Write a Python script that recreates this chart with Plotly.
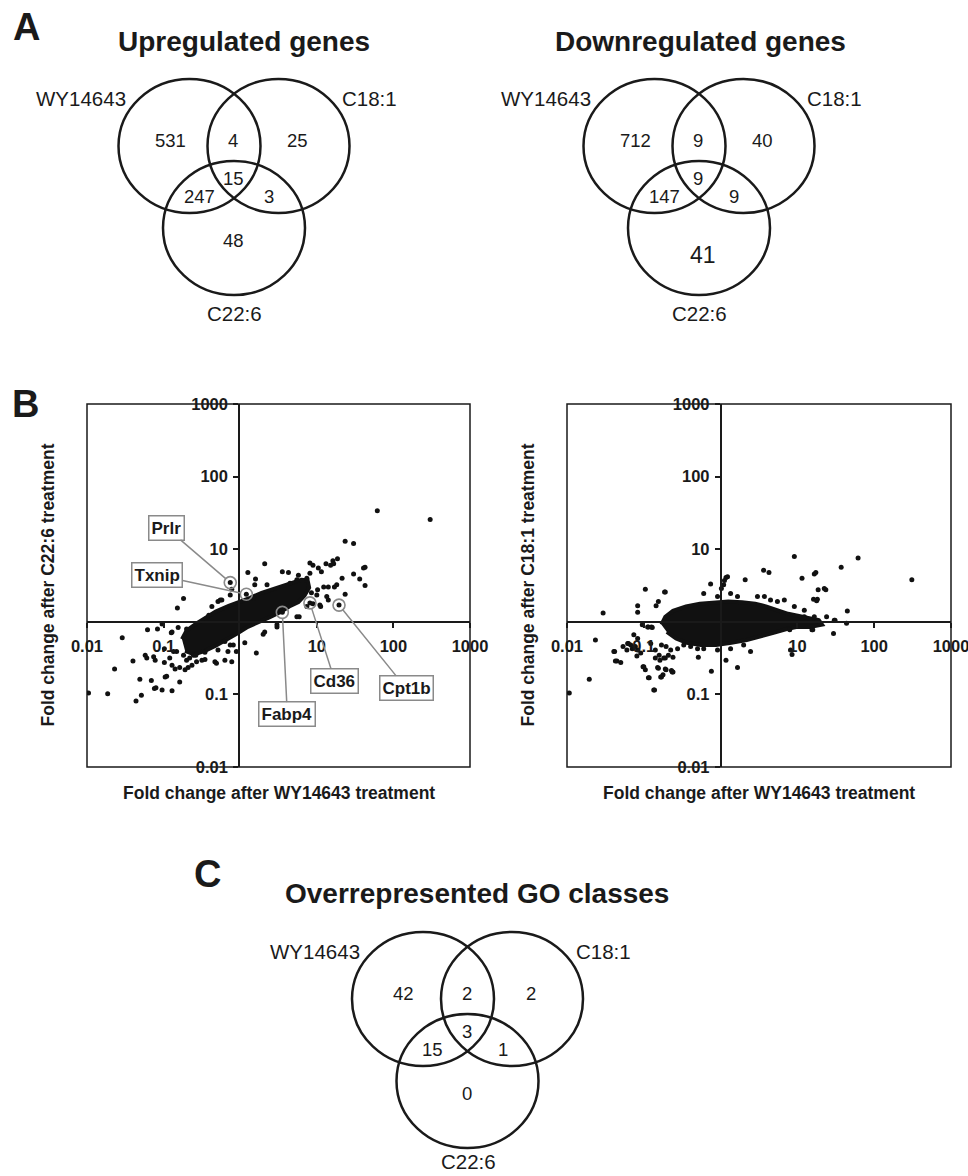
import plotly.graph_objects as go

W, H = 968, 1176

# ---------------- data ----------------
venn_sets = ["WY14643", "C18:1", "C22:6"]
# region order: WY only, WY&C18, C18 only, all three, WY&C22, C18&C22, C22 only
up_counts = [531, 4, 25, 15, 247, 3, 48]
down_counts = [712, 9, 40, 9, 147, 9, 41]
go_counts = [42, 2, 2, 3, 15, 1, 0]
venn_titles = ["Upregulated genes", "Downregulated genes", "Overrepresented GO classes"]
panel_letters = ["A", "B", "C"]

tick_values = [0.01, 0.1, 10, 100, 1000]
tick_labels = ["0.01", "0.1", "10", "100", "1000"]

x_title = "Fold change after WY14643 treatment"
y_titles = ["Fold change after C22:6 treatment", "Fold change after C18:1 treatment"]

# C22:6 vs WY14643 : individual genes, log10 fold changes
dha_wy_log10 = [1.79, 2.48, 1.37, 1.48, 1.27, 1.63, 1.56, 1.63, 1.37, 0.32, 0.55, 0.63, 0.10, 0.20,
                0.19, 0.35, -0.13, -0.11, 0.08, 0.17, -0.74, -0.82, 1.29, 0.55, 0.91, 1.21, 1.22, 1.12,
                1.18, 0.91, 0.95, 1.02, 1.06, 1.61, 1.48, 1.33, 1.26, 1.23, 1.15, 1.09, 1.01, 1.00, 0.93,
                1.13, 1.15, 1.04, 1.05, 0.95, 0.87, 0.74, 0.77, 0.48, -0.24, -0.29, -0.37, -0.41,
                -1.21, -1.08, -1.54, -0.90, -0.81, -0.70, -0.99, -0.87, -0.83, -1.40, -1.64, -1.24,
                -1.22, -1.13, -1.11, -0.99, -0.92, -0.89, -0.85, -0.79, -0.72, -0.68, -0.63, -0.74,
                -0.70, -0.66, -0.61, -0.57, -0.98, -0.96, -1.31, -1.16, -1.10, -1.02, -0.89, -0.79,
                -1.29, -1.36, -1.73, -1.98, -0.50, -0.46, -0.33, -0.20, -0.11, -0.16, -0.29, -0.20,
                -0.09, -0.05, -1.12, -1.02, -0.89, 0.30, 0.21, 0.06, -0.13, -0.31, 0.48, -0.26, -0.13,
                0.65, 0.74, 0.87, 0.76, 0.91, 0.32, -0.58, -0.46]
dha_log10 = [1.53, 1.41, 1.11, 1.08, 0.87, 0.75, 0.59, 0.50, 0.38, 0.80, 0.69, 0.68, 0.68, 0.59,
             0.51, 0.51, 0.54, 0.45, 0.38, 0.32, 0.32, 0.19, 0.23, 0.13, 0.26, 0.84, 0.80, 0.80,
             0.78, 0.81, 0.78, 0.74, 0.69, 0.74, 0.66, 0.60, 0.51, 0.48, 0.48, 0.48, 0.44, 0.37, 0.40,
             0.35, 0.30, 0.23, 0.21, 0.25, 0.21, 0.07, 0.07, -0.07, 0.30, 0.28, 0.21, 0.09,
             -0.11, -0.10, -0.22, -0.15, -0.08, -0.10, -0.37, -0.41, -0.41, -0.54, -0.65, -0.46,
             -0.50, -0.48, -0.53, -0.56, -0.50, -0.60, -0.65, -0.63, -0.66, -0.63, -0.60, -0.46,
             -0.53, -0.50, -0.46, -0.55, -0.76, -0.75, -0.79, -0.81, -0.91, -0.94, -0.95, -0.83,
             -1.01, -1.09, -0.99, -0.98, -0.53, -0.52, -0.55, -0.53, -0.55, -0.41, -0.39, -0.27,
             -0.32, -0.41, -0.92, -0.03, -0.14, -0.17, -0.43, -0.29, -0.32, -0.57, -0.04, 0.30, 0.37,
             0.53, 0.58, 0.60, 0.64, 0.67, -0.14, -0.46, -0.42]
# outline of the saturated core of the C22:6 cloud (log10)
dha_core_wy_log10 = [-0.76, -0.70, -0.58, -0.45, -0.32, -0.15, -0.02, 0.13, 0.28, 0.40, 0.56, 0.68,
                     0.80, 0.88, 0.90, 0.84, 0.76, 0.64, 0.52, 0.38, 0.24, 0.10, -0.04, -0.18, -0.32,
                     -0.46, -0.60, -0.72]
dha_core_log10 = [-0.24, -0.12, -0.03, 0.06, 0.14, 0.22, 0.27, 0.33, 0.40, 0.44, 0.49, 0.53,
                  0.58, 0.57, 0.47, 0.36, 0.27, 0.21, 0.13, 0.06, -0.01, -0.07, -0.16, -0.25, -0.33,
                  -0.40, -0.45, -0.40]

# C18:1 vs WY14643
ole_wy_log10 = [2.49, 1.79, 0.96, 1.57, 0.56, 0.63, 1.06, 1.22, 1.24, 1.35, 1.37, 1.27, 1.26, 1.21,
                1.25, 0.32, 0.07, 0.09, 0.05, 0.04, 0.01, -0.13, -0.72, -0.98, -0.81, -0.84, -1.08,
                -1.08, -1.53, -1.63, 1.65, 1.64, 1.48, 1.47, 1.19, 0.91, 0.93, 0.39, 0.07, 0.22, -0.12,
                -1.97, -1.71, -0.87, -0.93, -0.78, -0.82, -0.71, -0.63, -1.00, -0.98, -1.39, -1.35,
                -1.30, -1.21, -1.17, -1.15, -1.08, -1.04, -1.13, -1.08, -0.91, -0.85, -0.80, -0.74,
                -0.71, -0.65, -0.56, -0.95, -0.89, -1.02, -0.48, -0.39, -0.30, -0.22, -0.04, 0.13, 0.30,
                -0.22, -0.04, 0.13, 0.22, 0.48, 0.57, 0.65, 0.74, 0.83, 0.96, 1.09, 1.09, 1.17, 1.26,
                1.30, 1.22, 0.90, 1.20, 1.38, 1.49, -0.73, -1.38, -1.37, -1.27, -1.22, -1.20, -1.11,
                -1.09, -1.01, -0.94, -0.86, -0.77, -0.75, -0.81, -0.72, -0.64, -0.62, -0.85, -0.79,
                -0.72, -0.68, -0.62, -0.29, -0.94, -0.90, -0.77]
ole_log10 = [0.58, 0.88, 0.90, 0.75, 0.71, 0.68, 0.60, 0.66, 0.68, 0.46, 0.44, 0.44, 0.31, 0.31,
             0.29, 0.58, 0.61, 0.62, 0.57, 0.51, 0.46, 0.52, 0.41, 0.45, 0.28, 0.22, 0.22,
             0.13, 0.12, -0.25, 0.15, -0.02, 0.02, -0.16, -0.11, -0.39, -0.45, -0.41, -0.53, -0.63, -0.68,
             -0.98, -0.79, -0.94, -0.77, -0.76, -0.63, -0.66, -0.69, -0.62, -0.66, -0.41, -0.54,
             -0.56, -0.30, -0.32, -0.37, -0.39, -0.43, -0.18, -0.23, -0.30, -0.39, -0.46, -0.50,
             -0.34, -0.39, -0.37, -0.07, -0.08, -0.04, -0.32, -0.34, -0.37, -0.37, -0.39, -0.37, -0.32,
             0.39, 0.35, 0.39, 0.35, 0.35, 0.35, 0.30, 0.28, 0.30, 0.21, 0.16, 0.07, 0.02, 0.02,
             -0.02, 0.07, -0.11, -0.11, 0.07, 0.02, 0.41, -0.41, -0.54, -0.34, -0.39, -0.30, -0.34,
             -0.47, -0.62, -0.77, -0.94, -0.76, -0.73, -0.64, -0.65, -0.67, -0.69, -0.50, -0.53,
             -0.50, -0.46, -0.49, -0.49, -0.07, -0.07, -0.32]
ole_core_wy_log10 = [-0.77, -0.72, -0.62, -0.45, -0.27, -0.08, 0.10, 0.28, 0.45, 0.60, 0.74, 0.88,
                     1.02, 1.16, 1.28, 1.32, 1.16, 1.00, 0.86, 0.70, 0.52, 0.34, 0.14, -0.06, -0.26,
                     -0.44, -0.58, -0.70]
ole_core_log10 = [-0.04, 0.07, 0.15, 0.21, 0.25, 0.27, 0.28, 0.27, 0.25, 0.21, 0.16, 0.11,
                  0.08, 0.05, 0.02, -0.04, -0.07, -0.07, -0.10, -0.15, -0.20, -0.25, -0.29, -0.32,
                  -0.32, -0.29, -0.23, -0.14]

genes = ["Prlr", "Txnip", "Fabp4", "Cd36", "Cpt1b"]
gene_wy_log10 = [-0.13, 0.08, 0.55, 0.91, 1.29]
gene_dha_log10 = [0.54, 0.38, 0.13, 0.26, 0.23]

# ---------------- layout constants (pixels) ----------------
FONT = "Liberation Sans, Arial, sans-serif"
INK = "#1a1a1a"
venn_anchor = [(234, 228), (699, 228), (467.5, 1081)]  # centre of the C22:6 circle
circle_offsets = [(-44.5, -82), (44.5, -82), (0, 0)]
RX, RY = 71, 67
region_offsets = [(-64, -88), (-1, -88), (63, -88), (-1, -50), (-35, -32), (35, -32), (-1, 12)]
region_override = {(1, 6): ((4, 27), 23)}
set_label_offsets = [(-106, -130, "right"), (106, -130, "left"), (0.5, 85, "center")]
title_pos = [(244, 41), (700, 41), (477, 893)]
letter_pos = [(26, 27), (25, 404), (207, 874)]

frames = [(87, 470), (567, 951)]
frame_top, frame_bottom = 404, 767
cross_px_x = [239, 720.6]
cross_py = 622

gene_box_offsets = [(-64, -55), (-89, -19), (5, 102), (25, 78), (67, 83)]


def paper_x(px):
    return px / W


def paper_y(py):
    return 1 - py / H


fig = go.Figure()

# pixel canvas
fig.update_layout(
    xaxis=dict(domain=[0, 1], range=[0, W], visible=False, fixedrange=True, automargin=False),
    yaxis=dict(domain=[0, 1], range=[H, 0], visible=False, fixedrange=True, automargin=False),
)

annotations = []
shapes = []

# ---------------- Venn diagrams ----------------
for k, counts in enumerate([up_counts, down_counts, go_counts]):
    ax0, ay0 = venn_anchor[k]
    for dx, dy in circle_offsets:
        cx, cy = ax0 + dx, ay0 + dy
        shapes.append(dict(type="circle", xref="x", yref="y", x0=cx - RX, x1=cx + RX,
                           y0=cy - RY, y1=cy + RY, line=dict(color=INK, width=2.5)))
    for r, val in enumerate(counts):
        (dx, dy), fs = region_override.get((k, r), (region_offsets[r], 18.5))
        annotations.append(dict(x=ax0 + dx, y=ay0 + dy, xref="x", yref="y", text=str(val),
                                showarrow=False, font=dict(family=FONT, size=fs, color=INK)))
    for s, name in enumerate(venn_sets):
        dx, dy, anc = set_label_offsets[s]
        ly = ay0 + dy
        yanc = "middle"
        if ly + 15 > H:  # keep the bottom label inside the page
            ly, yanc = H - 1, "bottom"
        annotations.append(dict(x=ax0 + dx, y=ly, xref="x", yref="y", text=name,
                                xanchor=anc, yanchor=yanc, showarrow=False,
                                font=dict(family=FONT, size=20.5, color=INK)))
    tx, ty = title_pos[k]
    annotations.append(dict(x=tx, y=ty, xref="x", yref="y", text=venn_titles[k], showarrow=False,
                            font=dict(family=FONT, size=28, color=INK, weight="bold")))

for L, (lx, ly) in zip(panel_letters, letter_pos):
    annotations.append(dict(x=lx, y=ly, xref="x", yref="y", text=L, showarrow=False,
                            font=dict(family=FONT, size=38, color=INK, weight="bold")))

# ---------------- Scatter plots ----------------
scatter_sets = [
    (dha_wy_log10, dha_log10, dha_core_wy_log10, dha_core_log10),
    (ole_wy_log10, ole_log10, ole_core_wy_log10, ole_core_log10),
]
for i, (xs, ys, cxs, cys) in enumerate(scatter_sets):
    xa = "x%d" % (i + 2)
    ya = "y%d" % (i + 2)
    fx0, fx1 = frames[i]
    xdom = [paper_x(fx0), paper_x(fx1)]
    ydom = [paper_y(frame_bottom), paper_y(frame_top)]
    common = dict(type="log", range=[-2, 3], showgrid=False, zeroline=False, showline=True,
                  linecolor=INK, linewidth=1.5, ticks="outside", ticklen=5, tickwidth=1.5,
                  tickcolor=INK, tickmode="array", tickvals=tick_values, ticktext=tick_labels,
                  tickfont=dict(family=FONT, size=16.5, color=INK, weight="bold"),
                  ticklabeloverflow="allow",
                  fixedrange=True, anchor="free", automargin=False)
    fig.layout["xaxis%d" % (i + 2)] = dict(common, domain=xdom, position=paper_y(cross_py),
                                          ticklabelstandoff=4)
    fig.layout["yaxis%d" % (i + 2)] = dict(common, domain=ydom, position=paper_x(cross_px_x[i]),
                                          ticklabelstandoff=2)
    # dense core of the cloud
    fig.add_trace(go.Scatter(x=[10 ** v for v in cxs], y=[10 ** v for v in cys], xaxis=xa, yaxis=ya,
                             mode="lines", fill="toself", fillcolor="#111111",
                             line=dict(color="#111111", width=4), showlegend=False,
                             hoverinfo="skip"))
    fig.add_trace(go.Scatter(x=[10 ** v for v in xs], y=[10 ** v for v in ys], xaxis=xa, yaxis=ya,
                             mode="markers", marker=dict(color="#111111", size=5),
                             showlegend=False))
    # frame
    shapes.append(dict(type="rect", xref="x", yref="y", x0=fx0, x1=fx1, y0=frame_top,
                       y1=frame_bottom, line=dict(color=INK, width=1.5), layer="below"))
    annotations.append(dict(x=(fx0 + fx1) / 2, y=793, xref="x", yref="y", text=x_title,
                            showarrow=False,
                            font=dict(family=FONT, size=17.5, color=INK, weight="bold")))
    annotations.append(dict(x=[47, 527][i], y=(frame_top + frame_bottom) / 2, xref="x", yref="y",
                            text=y_titles[i], textangle=-90, showarrow=False,
                            font=dict(family=FONT, size=17.5, color=INK, weight="bold")))

# highlighted genes
fig.add_trace(go.Scatter(x=[10 ** v for v in gene_wy_log10], y=[10 ** v for v in gene_dha_log10],
                         xaxis="x2", yaxis="y2", mode="markers",
                         marker=dict(symbol="circle-open", size=12, color="#8a8a8a",
                                     line=dict(width=1.6, color="#8a8a8a")),
                         showlegend=False))
for g, gx, gy, (ox, oy) in zip(genes, gene_wy_log10, gene_dha_log10, gene_box_offsets):
    annotations.append(dict(x=gx, y=gy, xref="x2", yref="y2", text=g, ax=ox, ay=oy,
                            showarrow=True, arrowhead=0, arrowwidth=1.5, arrowcolor="#8a8a8a",
                            standoff=6, bgcolor="white", bordercolor="#8a8a8a", borderwidth=1.5,
                            borderpad=2,
                            font=dict(family=FONT, size=17, color=INK, weight="bold")))

fig.update_layout(width=W, height=H, margin=dict(l=0, r=0, t=0, b=0, autoexpand=False),
                  paper_bgcolor="white", plot_bgcolor="rgba(0,0,0,0)",
                  shapes=shapes, annotations=annotations, showlegend=False)

# the page's default 8px body margin would push the 968x1176 figure off the window
fig.write_html("out.html", config={"displayModeBar": False},
               post_script="document.body.style.margin='0px';")
